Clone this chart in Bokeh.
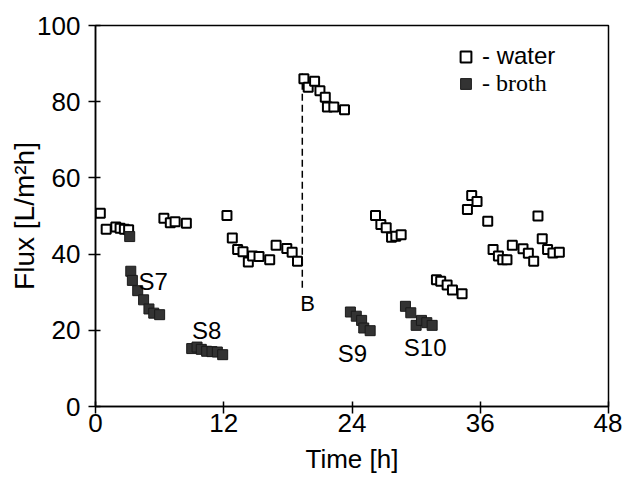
from bokeh.plotting import figure
from bokeh.models import Range1d, FixedTicker, Legend, LegendItem
from bokeh.core.properties import value
from bokeh.embed import file_html
from bokeh.resources import INLINE

# ---- data ----
water_t = [0.45, 1.0, 1.9, 2.3, 2.7, 3.1,
           6.4, 7.0, 7.45, 8.5,
           12.3, 12.8, 13.3, 13.8, 14.3, 14.7, 15.3, 16.3, 16.9, 17.9, 18.4, 18.9,
           19.5, 19.9, 20.5, 21.0, 21.5, 21.7, 22.3, 23.3,
           26.2, 26.7, 27.2, 27.7, 28.1, 28.6,
           31.9, 32.3, 32.9, 33.4, 34.3,
           34.8, 35.2, 35.7, 36.7, 37.2, 37.7, 38.1, 38.5, 39.0, 40.0, 40.5, 41.0,
           41.4, 41.8, 42.3, 42.8, 43.4]
water_flux = [50.7, 46.5, 47.1, 46.8, 46.5, 46.4,
              49.4, 48.2, 48.5, 48.1,
              50.1, 44.2, 41.2, 40.6, 37.9, 39.5, 39.4, 38.5, 42.3, 41.5, 40.5, 38.1,
              86.0, 83.8, 85.4, 82.9, 81.2, 78.6, 78.6, 77.9,
              50.1, 47.8, 46.9, 44.4, 44.7, 45.1,
              33.3, 32.9, 31.9, 30.6, 29.6,
              51.7, 55.4, 53.8, 48.6, 41.2, 39.5, 38.5, 38.5, 42.3, 41.4, 40.2, 38.1,
              50.0, 44.0, 41.2, 40.3, 40.5]

broth_t = [3.2, 3.3, 3.45, 3.95, 4.5, 5.0, 5.45, 6.0,
           9.0, 9.5, 9.9, 10.4, 10.9, 11.4, 11.9,
           23.85, 24.4, 24.9, 25.1, 25.7,
           29.0, 29.5, 30.0, 30.5, 31.0, 31.5]
broth_flux = [44.6, 35.5, 33.1, 30.4, 28.0, 25.6, 24.5, 24.1,
              15.2, 15.6, 15.0, 14.5, 14.4, 14.3, 13.6,
              24.8, 23.7, 22.6, 20.6, 19.9,
              26.3, 24.6, 21.3, 22.6, 22.0, 21.3]

label_text = ["S7", "S8", "S9", "S10"]
label_t = [5.4, 10.4, 24.05, 30.85]
label_flux = [32.8, 19.9, 13.9, 15.5]

b_line_t = [19.35, 19.35]
b_line_flux = [31.2, 87.4]
b_label_t = [19.85]
b_label_flux = [27.0]

x_ticks = [0, 12, 24, 36, 48]
y_ticks = [0, 20, 40, 60, 80, 100]

FONT = "Liberation Sans"

p = figure(width=622, height=477, output_backend="svg", toolbar_location=None,
           x_range=Range1d(0, 48), y_range=Range1d(0, 100),
           min_border_left=95, min_border_right=14, min_border_top=25, min_border_bottom=71)
p.background_fill_color = "white"
p.border_fill_color = "white"
p.grid.visible = False
p.outline_line_color = "black"
p.outline_line_width = 1.5

for ax in (p.xaxis[0], p.yaxis[0]):
    ax.axis_line_color = "black"
    ax.axis_line_width = 1.5
    ax.major_tick_line_color = "black"
    ax.major_tick_line_width = 1.5
    ax.major_tick_in = 5
    ax.major_tick_out = 7
    ax.minor_tick_line_color = None
    ax.major_label_text_font = FONT
    ax.major_label_text_font_size = "26px"
    ax.major_label_text_color = "black"
    ax.axis_label_text_font = FONT
    ax.axis_label_text_font_style = "normal"
    ax.axis_label_text_color = "black"

p.xaxis.ticker = FixedTicker(ticks=x_ticks)
p.yaxis.ticker = FixedTicker(ticks=y_ticks)
p.xaxis.axis_label = "Time [h]"
p.yaxis.axis_label = "Flux [L/m²h]"
p.xaxis.axis_label_text_font_size = "26px"
p.yaxis.axis_label_text_font_size = "28px"
p.xaxis.major_label_standoff = 0
p.yaxis.major_label_standoff = 8
p.xaxis.axis_label_standoff = 9
p.yaxis.axis_label_standoff = -6

# dashed line B
p.line(b_line_t, b_line_flux, line_color="black", line_width=1.5, line_dash="7 4")

water = p.scatter(water_t, water_flux, marker="square", size=9,
                  fill_color="white", line_color="black", line_width=2)
broth = p.scatter(broth_t, broth_flux, marker="square", size=10,
                  fill_color="#333333", line_color="#1a1a1a", line_width=1)

p.text(label_t, label_flux, text=label_text, text_font=value(FONT),
       text_font_size="24px", text_align="center", text_baseline="middle",
       text_color="black")
p.text(b_label_t, b_label_flux, text=["B"], text_font=value(FONT),
       text_font_size="22px", text_align="center", text_baseline="middle",
       text_color="black")

leg_w = Legend(items=[LegendItem(label="- water", renderers=[water])],
               location=(357, 336), padding=0, margin=0, border_line_alpha=0,
               background_fill_alpha=0, glyph_width=27, glyph_height=27,
               label_standoff=3, label_text_font=FONT, label_text_font_size="24px",
               label_text_color="black")
leg_b = Legend(items=[LegendItem(label="- broth", renderers=[broth])],
               location=(357, 309), padding=0, margin=0, border_line_alpha=0,
               background_fill_alpha=0, glyph_width=27, glyph_height=27,
               label_standoff=3, label_text_font="Liberation Serif",
               label_text_font_size="24px", label_text_color="black")
p.add_layout(leg_w, "center")
p.add_layout(leg_b, "center")

open("out.html", "w").write(file_html(p, INLINE))
